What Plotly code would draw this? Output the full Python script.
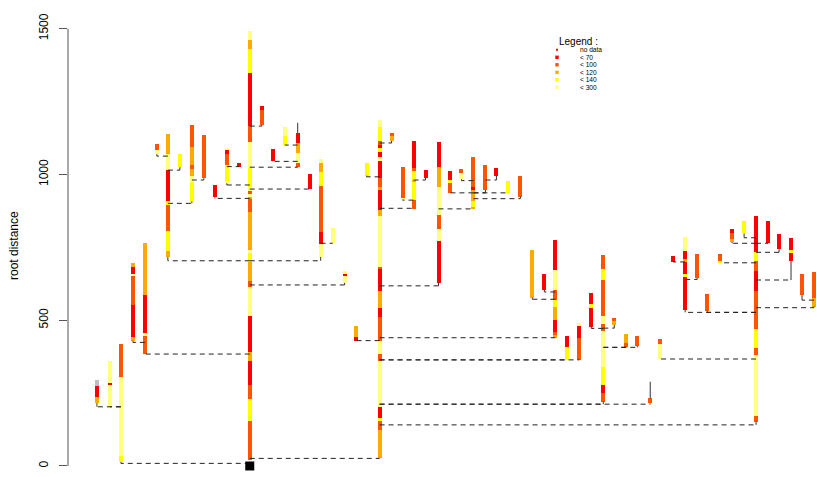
import plotly.graph_objects as go

# growth-rate classes
class_labels = ["no data", "< 70", "< 100", "< 120", "< 140", "< 300"]
class_colors = ["#BEBEBE", "#FF0000", "#FF5500", "#FFAA00", "#FFFF00", "#FFFF80"]
class_codes = "GROAYL"
legend_fill = ["#FF0000", "#FF0000", "#FF5500", "#FFAA00", "#FFFF00", "#FFFF80"]

# root system: id, parent id, horizontal layout position, branching distance
root_id = ["P", "C", "A", "B", "E", "D", "F", "F1", "F2", "G", "G1", "H", "I", "I1",
           "J", "K", "K1", "K2", "L1", "M", "M1", "R", "Q", "Q1", "Q2", "Q3", "S",
           "S1", "S2", "T", "U", "U1", "U2", "U3", "U4", "U5", "U6", "V", "V1", "V2",
           "V3", "V4", "Z", "Z1", "Z2", "Z3", "Z4", "X1", "W", "W1", "W2", "W2a",
           "W2b", "W3", "W4", "W5", "W6", "W7", "W8", "W9", "W10", "W10a"]
root_parent = [None, "P", "C", "C", "P", "E", "P", "F", "F", "F", "G", "P", "P", "I",
               "P", "P", "K", "K", "P", "P", "M", "P", "P", "Q", "Q", "Q", "Q",
               "S", "S", "Q", "T", "U", "U", "U", "U3", "U", "U", "Q", "V", "V",
               "Q", "Q", "Q", "Z", "Z", "Z", "Z", "Q", "Q", "W", "W", "W2",
               "W2", "W", "W", "W", "W", "W", "W", "W", "W", "W10"]
root_pos = [250, 121, 97, 110, 145, 133, 168, 157, 180, 192, 204, 215, 227, 239,
            262, 298, 285, 273, 310, 321, 333, 345, 380, 356, 367, 392, 414,
            403, 426, 439, 474, 451, 462, 486, 497, 509, 521, 556, 533, 545,
            568, 580, 604, 592, 615, 627, 638, 651, 757, 661, 686, 674,
            698, 708, 721, 733, 745, 769, 780, 792, 815, 803]
root_branch = [0, 9, 203, 203, 384, 424, 704, 1063, 1015, 901, 981, 918, 964, 1027,
               1166, 1025, 1101, 1045, 950, 704, 764, 621, 26, 430, 992, 1108, 884,
               912, 981, 618, 882, 937, 979, 937, 981, 937, 917, 440, 572, 597,
               364, 364, 212, 472, 473, 407, 407, 212, 141, 367, 527, 700,
               640, 527, 697, 764, 783, 764, 733, 638, 543, 569]

# segment boundaries along each root (from base to tip) and the rate class of each segment
root_bounds = [
    [21, 154, 230, 278, 360, 391, 515, 614, 635, 700, 732, 741, 871, 916, 924, 933,
     944, 956, 1023, 1111, 1166, 1349, 1430, 1461, 1492],
    [14, 34, 305, 418],
    [216, 237, 274, 295],
    [203, 278, 286, 360],
    [384, 446, 457, 587, 766],
    [430, 444, 552, 653, 656, 684, 697],
    [717, 738, 806, 895, 909, 1015, 1070, 1139],
    [1070, 1083, 1104],
    [1025, 1071],
    [907, 975, 995, 1018, 1032, 1095, 1170],
    [987, 1135],
    [922, 964],
    [970, 978, 1032, 1070, 1084, 1092],
    [1027, 1040],
    [1170, 1221, 1235],
    [1026, 1039, 1074, 1108, 1142],
    [1101, 1132, 1163],
    [1046, 1087],
    [950, 1002],
    [717, 761, 803, 960, 1008, 1039, 1053],
    [765, 816],
    [628, 653, 657, 669],
    [27, 123, 154, 166, 203, 360, 384, 429, 511, 542, 601, 676, 684, 859, 878, 947,
     956, 989, 1046, 1061, 1078, 1090, 1101, 1116, 1162, 1187],
    [430, 444, 480],
    [996, 1040],
    [1115, 1132, 1142],
    [882, 912, 974, 981, 1012, 1022, 1115],
    [913, 920, 1026],
    [989, 1015],
    [629, 772, 813, 861, 956, 1027, 1111],
    [882, 889, 909, 947, 956, 1060],
    [937, 971, 981, 1012],
    [984, 1006, 1019],
    [947, 1032],
    [995, 1022],
    [937, 978],
    [924, 995],
    [440, 448, 460, 501, 546, 569, 604, 672, 775],
    [577, 741],
    [604, 659],
    [364, 408, 446],
    [364, 439, 480, 490],
    [221, 252, 278, 341, 464, 487, 515, 638, 676, 724],
    [478, 542, 556, 593],
    [484, 497, 507],
    [407, 421, 453],
    [412, 446],
    [215, 232],
    [152, 172, 381, 406, 470, 601, 669, 703, 735, 858],
    [367, 418, 436],
    [535, 649, 659, 703, 709, 737, 785],
    [701, 720],
    [645, 727],
    [533, 590],
    [697, 704, 727],
    [769, 779, 799, 813],
    [798, 840],
    [764, 840],
    [744, 796],
    [703, 732, 741, 782],
    [547, 577, 665],
    [587, 659],
]
root_rate = [
    "OYORARLOAYLAOALOLYLORYAL", "YLO", "ARG", "LRL", "OLRA", "AROLRA", "AYOYRLA",
    "LO", "Y", "YLAOAO", "O", "R", "LYORL", "R", "OR", "OLAR", "YL", "R", "R",
    "LROYAL", "L", "LRL", "AOYRLOLORAROLARAORLRYROYL", "RA", "Y", "AO", "OYAYOR",
    "LO", "R", "RLOLAR", "AYARO", "OYR", "LO", "O", "R", "Y", "O", "AORAYOLR", "A",
    "R", "YR", "ORL", "ORYLOLOYO", "RYR", "AO", "OA", "O", "O", "OLOYOROYR", "LO",
    "RYRARL", "R", "O", "O", "YO", "AOR", "Y", "R", "R", "RYR", "AO", "O",
]

# thin unclassified stretches drawn as plain lines: position, from, to
stem_pos = [298, 651]
stem_from = [1142, 232]
stem_to = [1177, 289]

pos_of = dict(zip(root_id, root_pos))

fig = go.Figure()

# coloured root segments, one trace per rate class
for ci, code in enumerate(class_codes):
    xs, bases, lens = [], [], []
    for pos, bounds, rate in zip(root_pos, root_bounds, root_rate):
        for k, ch in enumerate(rate):
            if ch == code:
                xs.append(pos)
                bases.append(bounds[k])
                lens.append(bounds[k + 1] - bounds[k])
    if xs:
        fig.add_trace(go.Bar(x=xs, y=lens, base=bases, width=4,
                             marker=dict(color=class_colors[ci], line=dict(width=0)),
                             name=class_labels[ci], showlegend=False, hoverinfo="skip"))

# dashed links from parent to lateral root at the branching distance
hx, hy = [], []
vx, vy = [], []
for rid, par, pos, br, bounds in zip(root_id, root_parent, root_pos, root_branch, root_bounds):
    if par is None:
        continue
    hx += [pos_of[par], pos, None]
    hy += [br, br, None]
    if bounds[0] > br:
        vx += [pos, pos, None]
        vy += [br, bounds[0], None]
for p, a, b in zip(stem_pos, stem_from, stem_to):
    vx += [p, p, None]
    vy += [a, b, None]

fig.add_trace(go.Scatter(x=hx, y=hy, mode="lines", showlegend=False, hoverinfo="skip",
                         line=dict(color="#222222", width=1, dash="5px,4px")))
fig.add_trace(go.Scatter(x=vx, y=vy, mode="lines", showlegend=False, hoverinfo="skip",
                         line=dict(color="#333333", width=1)))

# seed / root origin
fig.add_trace(go.Scatter(x=[root_pos[0]], y=[0], mode="markers", showlegend=False,
                         hoverinfo="skip",
                         marker=dict(symbol="square", size=9, color="black")))

# legend block
W, H, L = 817, 477, 68


def px(x):
    return (x - L) / (W - L)


def py(y):
    return (H - y) / H


annotations = [dict(x=px(557), y=py(42), xref="paper", yref="paper", text="Legend :",
                    showarrow=False, xanchor="left", yanchor="middle",
                    font=dict(size=10, color="black", family="Liberation Sans"))]
shapes = []
row_y = [49.8, 57.3, 64.8, 72.3, 79.8, 87.3]
for i, (lab, col) in enumerate(zip(class_labels, legend_fill)):
    s = 1.0 if i == 0 else 1.7
    shapes.append(dict(type="rect", xref="paper", yref="paper",
                       x0=px(557 - s), x1=px(557 + s), y0=py(row_y[i] + s), y1=py(row_y[i] - s),
                       fillcolor=col, line=dict(width=0)))
    annotations.append(dict(x=px(579), y=py(row_y[i]), xref="paper", yref="paper", text=lab,
                            showarrow=False, xanchor="left", yanchor="middle", borderpad=0,
                            font=dict(size=6.6, color="black", family="Liberation Sans")))

# axis title
annotations.append(dict(x=px(14), y=py(246), xref="paper", yref="paper", text="root distance",
                        showarrow=False, textangle=-90, xanchor="center", yanchor="middle",
                        font=dict(size=12, color="black", family="Liberation Sans")))

# y axis line limited to the tick range
shapes.append(dict(type="line", xref="paper", yref="y", x0=0, x1=0, y0=0, y1=1500,
                   line=dict(color="#555555", width=1)))

fig.update_layout(
    width=W, height=H,
    margin=dict(l=L, r=0, t=0, b=0),
    paper_bgcolor="white", plot_bgcolor="white",
    barmode="overlay", bargap=0,
    showlegend=False,
    annotations=annotations, shapes=shapes,
    font=dict(family="Liberation Sans", color="black"),
    xaxis=dict(visible=False, range=[L, W + 1]),
    yaxis=dict(range=[-37.8, 1598.6], tickvals=[0, 500, 1000, 1500],
               ticktext=["0", "500", "1000", "1500"], tickangle=-90,
               ticks="outside", ticklen=8, tickcolor="#555555",
               ticklabelstandoff=6,
               showline=False, showgrid=False, zeroline=False,
               tickfont=dict(size=12, color="black", family="Liberation Sans")),
)

fig.write_html("out.html")
